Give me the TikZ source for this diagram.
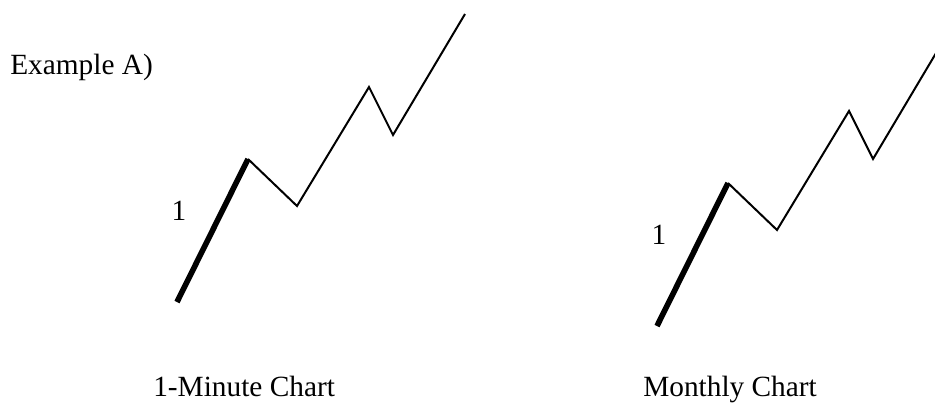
\documentclass[tikz,border=0pt]{standalone}
\usepackage{fontspec}
\setmainfont{Liberation Serif}
\begin{document}
\begin{tikzpicture}[x=0.75pt,y=-0.75pt,
  thinleg/.style={line width=1.5pt,line join=miter},
  thickleg/.style={line width=4.2pt,line cap=butt},
  lbl/.style={inner sep=0pt,font=\fontsize{22}{26}\selectfont},
  ]
\useasboundingbox (0,0) rectangle (935,405);
\clip (0,0) rectangle (935,405);
% left chart
\coordinate (a0) at (177,302);
\coordinate (a1) at (248,159);
\coordinate (a2) at (297,206);
\coordinate (a3) at (369,87);
\coordinate (a4) at (393,135);
\coordinate (a5) at (465,14);
\draw[thickleg] (a0) -- (a1);
\draw[thinleg] (a1) -- (a2) -- (a3) -- (a4) -- (a5);
% right chart
\coordinate (b0) at (657,326);
\coordinate (b1) at (728,183);
\coordinate (b2) at (777,230);
\coordinate (b3) at (849,111);
\coordinate (b4) at (873,159);
\coordinate (b5) at (945,38);
\draw[thickleg] (b0) -- (b1);
\draw[thinleg] (b1) -- (b2) -- (b3) -- (b4) -- (b5);
% labels
\node[lbl,anchor=base west] (title) at (10,74) {Example A)};
\node[lbl] (one1) at (179,211) {1};
\node[lbl] (one2) at (659,235) {1};
\node[lbl,anchor=base west] (cap1) at (153,396) {1-Minute Chart};
\node[lbl,anchor=base west] (cap2) at (643,396) {Monthly Chart};
\end{tikzpicture}
\end{document}
